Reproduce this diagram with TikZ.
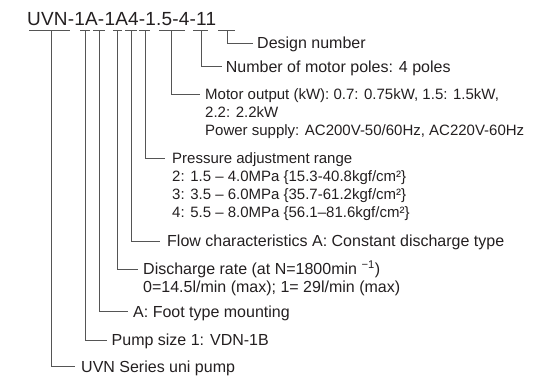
\documentclass[tikz,border=0pt]{standalone}
\usepackage{fontspec}
\setmainfont{Liberation Sans}
\usetikzlibrary{calc}
\definecolor{textblack}{HTML}{231F20}
\definecolor{linegray}{HTML}{555555}
\newcommand{\mlines}[1]{\begin{tabular}[t]{@{}l@{}}#1\end{tabular}}
\tikzset{
  ln/.style={draw=linegray, line width=0.8pt},
  lab/.style={font=\fontsize{16}{18}\selectfont, text=textblack, inner sep=0pt, anchor=base west},
  labs/.style={lab, font=\fontsize{15}{18}\selectfont},
  ttl/.style={font=\fontsize{19}{22}\selectfont\addfontfeature{LetterSpace=1.0}, text=textblack, inner sep=0pt, anchor=base west}
}
\begin{document}
\begin{tikzpicture}[x=1pt,y=-1pt]
\useasboundingbox (0,0) rectangle (538,383);
\node[ttl] (title) at (27,25.7) {UVN-1A-1A4-1.5-4-11};
% underline segments
\foreach \n/\a/\b in {1/29/70, 2/80/90, 3/93/105, 4/113/122, 5/125/137, 6/139/150, 7/159/185, 8/193/208, 9/218/235}{
  \coordinate (ua\n) at (\a,30.5);
  \coordinate (ub\n) at (\b,30.5);
  \draw[ln] (ua\n) -- (ub\n);
}
% vertical start points and stub ends
\foreach \n/\v/\y/\e in {1/51/366.7/75, 2/85.5/340/106.5, 3/99/311.7/128, 4/117/269.3/138, 5/131.5/241/160, 6/145/158.3/165, 7/171.7/94.3/200, 8/201.7/66.7/221.7, 9/227/43.3/253}{
  \coordinate (v\n) at (\v,30.5);
  \coordinate (e\n) at (\e,\y);
  \draw[ln] (v\n) |- (e\n);
}
\node[lab] (l1) at ($(e1)+(6,5.5)$) {UVN Series uni pump};
\node[lab] (l2) at ($(e2)+(5,5.5)$) {Pump size 1: VDN-1B};
\node[lab] (l3) at ($(e3)+(5,5.5)$) {A: Foot type mounting};
\node[lab] (l4) at ($(e4)+(5,5.5)$) {\mlines{Discharge rate (at N=1800min \textsuperscript{−1})\\0=14.5l/min (max); 1= 29l/min (max)}};
\node[lab] (l5) at ($(e5)+(7,5.5)$) {Flow characteristics A: Constant discharge type};
\node[labs] (l6) at ($(e6)+(7,5)$) {\mlines{Pressure adjustment range\\2: 1.5 – 4.0MPa \{15.3-40.8kgf/cm²\}\\3: 3.5 – 6.0MPa \{35.7-61.2kgf/cm²\}\\4: 5.5 – 8.0MPa \{56.1–81.6kgf/cm²\}}};
\node[labs] (l7) at ($(e7)+(5,5)$) {\mlines{Motor output (kW): 0.7: 0.75kW, 1.5: 1.5kW,\\2.2: 2.2kW\\Power supply: AC200V-50/60Hz, AC220V-60Hz}};
\node[lab] (l8) at ($(e8)+(4,5.5)$) {Number of motor poles: 4 poles};
\node[lab] (l9) at ($(e9)+(4,5.5)$) {Design number};
\end{tikzpicture}
\end{document}
